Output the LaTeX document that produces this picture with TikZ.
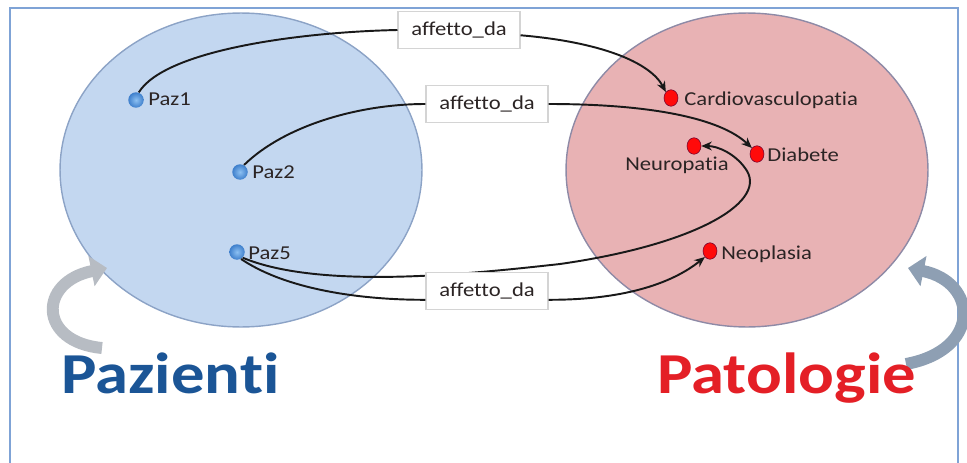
\documentclass[tikz,border=0pt]{standalone}
\usepackage{fontspec}
\setmainfont{Carlito}[Ligatures={NoCommon,NoContextual}]
\usepackage{graphicx}
\usetikzlibrary{arrows.meta,shapes.geometric}

\definecolor{framecol}{HTML}{7FA3D6}
\definecolor{setblue}{HTML}{C3D7F0}
\definecolor{setblueedge}{HTML}{8CA3C6}
\definecolor{setpink}{HTML}{E8B2B4}
\definecolor{setpinkedge}{HTML}{8E8AA6}
\definecolor{inkdark}{HTML}{2B2424}
\definecolor{titleblue}{HTML}{1B5596}
\definecolor{titlered}{HTML}{E41F26}
\definecolor{loopgray}{HTML}{B7BCC3}
\definecolor{loopslate}{HTML}{8E9FB3}
\definecolor{dotred}{HTML}{FF0A0A}
\definecolor{dotbluein}{HTML}{8CC0F2}
\definecolor{dotblueout}{HTML}{3E7FCC}
\definecolor{boxedge}{HTML}{D4D4D4}

% Calibri-like text set slightly wide
\newcommand{\widetext}[1]{\scalebox{1.15}[1]{#1}}

\tikzset{
  txt/.style={inner sep=0pt, text=inkdark, font=\fontsize{11.2}{13}\selectfont},
  bluedot/.style={circle, inner sep=0pt, minimum size=0.31cm, shading=radial,
    inner color=dotbluein, outer color=dotblueout},
  reddot/.style={ellipse, inner sep=0pt, minimum width=0.28cm, minimum height=0.33cm,
    fill=dotred, draw=red!70!blue!60!black, line width=0.3pt},
  relbox/.style={draw=boxedge, fill=white, line width=0.6pt, inner sep=0pt,
    minimum width=2.44cm, minimum height=0.74cm, text=inkdark,
    font=\fontsize{11.2}{13}\selectfont},
  link/.style={draw=black!90, line width=1.1pt},
  linkarrow/.style={link, -{Stealth[length=6pt,width=5pt]}},
  bigtitle/.style={inner sep=0pt, font=\fontsize{33}{36}\bfseries\selectfont},
}

\begin{document}
\begin{tikzpicture}[x=0.02cm, y=-0.02cm]
\useasboundingbox (0,0) rectangle (967,463);
\clip (0,0) rectangle (967,463);

% outer frame
\draw[framecol, line width=0.8pt] (10,8) rectangle (958,520);

% the two sets
\draw[fill=setblue, draw=setblueedge, line width=0.8pt]
  (241,170) ellipse [x radius=3.62cm, y radius=3.14cm];
\draw[fill=setpink, draw=setpinkedge, line width=0.8pt]
  (747,170) ellipse [x radius=3.62cm, y radius=3.14cm];

% curved block arrows next to the titles
\draw[loopgray, line width=6.8pt, -{Triangle[length=9pt,width=17pt]}]
  (102,348) .. controls (38,342) and (38,282) .. (107,268);
\draw[loopslate, line width=6.8pt, -{Triangle[length=9pt,width=17pt]}]
  (906,364) .. controls (982,350) and (978,282) .. (908,268);

% patients
\node[bluedot] (p1) at (136,100) {};
\node[bluedot] (p2) at (240,172) {};
\node[bluedot] (p5) at (237,252) {};

% pathologies
\node[reddot] (cv) at (671,98) {};
\node[reddot] (db) at (757,154) {};
\node[reddot] (nr) at (694,146) {};
\node[reddot] (np) at (710,251) {};

% relation labels
\node[relbox] (r1) at (459,30)  {\widetext{affetto\_da}};
\node[relbox] (r2) at (487,104) {\widetext{affetto\_da}};

% Paz1 -> Cardiovasculopatia
\draw[link] (p1.70) .. controls (165,50) and (300,32) .. (r1.west);
\draw[linkarrow] ([yshift=-3pt]r1.east) .. controls (600,42) and (650,62) .. (cv.north west);

% Paz2 -> Diabete
\draw[link] (p2.60) .. controls (285,125) and (360,104) .. (r2.west);
\draw[linkarrow] (r2.east) .. controls (650,104) and (720,118) .. (db.north west);

% Paz5 -> Neuropatia (passes behind the lower label)
\draw[linkarrow] (p5.south east) .. controls (320,290) and (470,274) .. (560,264)
  .. controls (700,244) and (770,200) .. (745,168)
  .. controls (735,154) and (718,146) .. (nr.east);

\node[relbox] (r3) at (487,291) {\widetext{affetto\_da}};

% Paz5 -> Neoplasia
\draw[link] (p5.-60) .. controls (290,292) and (370,300) .. ([yshift=-5pt]r3.west);
\draw[linkarrow] ([yshift=-5pt]r3.east) .. controls (620,300) and (670,285) .. (np.south west);

% names
\node[txt, anchor=base west] (p1t) at (148,105) {\widetext{Paz1}};
\node[txt, anchor=base west] (p2t) at (252,178) {\widetext{Paz2}};
\node[txt, anchor=base west] (p5t) at (248,259) {\widetext{Paz5}};
\node[txt, anchor=base west] (cvt) at (684,105) {\widetext{Cardiovasculopatia}};
\node[txt, anchor=base west] (dbt) at (767,161) {\widetext{Diabete}};
\node[txt, anchor=base] (nrt) at (677,170) {\widetext{Neuropatia}};
\node[txt, anchor=base west] (npt) at (721,259) {\widetext{Neoplasia}};

% titles
\node[bigtitle, text=titleblue, anchor=base west] (tp) at (61,393) {\widetext{Pazienti}};
\node[bigtitle, text=titlered, anchor=base west] (tq) at (657,393) {\widetext{Patologie}};
\end{tikzpicture}
\end{document}
